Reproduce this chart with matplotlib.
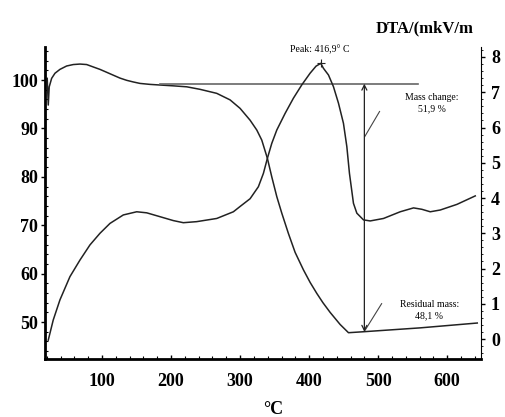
import numpy as np
import matplotlib
matplotlib.use("Agg")
import matplotlib.pyplot as plt
from matplotlib.ticker import MultipleLocator

# TG curve (mass, %)
tg_temp = [20.7, 22.2, 23.6, 27.1, 31.9, 39.1, 48.8, 58.4, 68.1, 77.8, 87.4, 97.1,
           106.8, 116.4, 126.1, 135.8, 145.4, 155.1, 169.6, 184.1, 203.3, 222.8,
           242, 266.2, 285.5, 300, 314.5, 324.2, 331.4, 339.6, 345.9, 353.2, 360.4,
           370, 379.7, 391.7, 401.4, 411.2, 420, 430.4, 444.9, 457, 478.7, 560.9,
           643.5]
tg_mass = [100.35, 94.83, 98.6, 100.35, 101.4, 102.2, 102.9, 103.2, 103.3, 103.2,
           102.7, 102.2, 101.6, 101.0, 100.4, 99.94, 99.6, 99.3, 99.1, 98.97, 98.8,
           98.6, 98.08, 97.25, 95.9, 94.15, 91.7, 89.67, 87.6, 83.8, 80.0, 75.9, 72.5,
           68.3, 64.4, 60.8, 58.2, 55.9, 54.0, 52.0, 49.5, 47.8, 48.0, 48.8, 49.8]

# DTA curve
dta_temp = [22.2, 29.4, 39.1, 53.6, 68.1, 82.6, 97.1, 111.6, 130.9, 150.3, 164.8,
            184.1, 203.3, 217.8, 237.2, 266.2, 290.3, 300, 314.5, 326.5, 333.8,
            339.6, 345.9, 353.2, 365.2, 377.2, 389.4, 401.4, 410, 416.9, 420.7, 428,
            435.2, 442.5, 449.7, 454.6, 458.4, 464.2, 469.1, 478.7, 488.4, 507.7,
            531.9, 551.2, 563.3, 575.4, 589.9, 614.1, 640.6]
dta_val = [-0.03, 0.54, 1.11, 1.77, 2.24, 2.67, 3.0, 3.28, 3.52, 3.61, 3.58, 3.47,
           3.36, 3.30, 3.33, 3.42, 3.61, 3.76, 3.98, 4.32, 4.70, 5.13, 5.55, 5.93,
           6.40, 6.83, 7.21, 7.54, 7.74, 7.82, 7.68, 7.49, 7.16, 6.69, 6.12, 5.46,
           4.70, 3.85, 3.57, 3.38, 3.35, 3.42, 3.61, 3.72, 3.68, 3.61, 3.66, 3.82,
           4.06]

peak_t, peak_v = 416.9, 7.82
start_t, start_mass = 184, 99.24
end_t = 557
arrow_t, residual = 480, 48.0

x_ticks = [100, 200, 300, 400, 500, 600]
left_ticks = [50, 60, 70, 80, 90, 100]
right_ticks = [0, 1, 2, 3, 4, 5, 6, 7, 8]

plt.rcParams['font.family'] = ['Liberation Serif', 'DejaVu Serif']

fig = plt.figure(figsize=(5.05, 4.17), dpi=100)
ax = fig.add_axes([0.089, 0.139, 0.864, 0.748])
ax2 = ax.twinx()

line_c = '#222222'
ax.plot(tg_temp, tg_mass, color=line_c, lw=1.1, solid_joinstyle='round')
ax2.plot(dta_temp, dta_val, color=line_c, lw=1.1, solid_joinstyle='round')

# horizontal reference line and mass-change arrow
ax.plot([start_t, end_t], [start_mass, start_mass], color='#666666', lw=1.2)
ax.annotate('', xy=(arrow_t, start_mass), xytext=(arrow_t, residual),
            arrowprops=dict(arrowstyle='<->', color='#222222', lw=0.9,
                            shrinkA=0, shrinkB=0, mutation_scale=9))

ax.set_xlim(17.4, 649.3)
ax.set_ylim(42.36, 106.8)
ax2.set_ylim(-0.567, 8.28)

ax.set_xticks(x_ticks)
ax.set_yticks(left_ticks)
ax2.set_yticks(right_ticks)
ax.xaxis.set_minor_locator(MultipleLocator(20))
ax.yaxis.set_minor_locator(MultipleLocator(2))
ax2.yaxis.set_minor_locator(MultipleLocator(0.2))

tick_font = dict(fontsize=13, fontweight='bold')
ax.set_xticklabels([str(v) for v in x_ticks], **tick_font)
ax.set_yticklabels([str(v) for v in left_ticks], **tick_font)
ax2.set_yticklabels([str(v) for v in right_ticks], **tick_font)

ax.tick_params(axis='x', which='major', direction='in', length=3, width=1, pad=10)
ax.tick_params(axis='x', which='minor', direction='in', length=2, width=0.8)
ax.tick_params(axis='y', which='major', direction='out', length=3, width=1, pad=2)
ax.tick_params(axis='y', which='minor', direction='in', length=2, width=0.8)
ax2.tick_params(axis='y', which='major', direction='out', length=3, width=1, pad=4)
ax2.tick_params(axis='y', which='minor', direction='out', length=1.5, width=0.6)

ax.spines['top'].set_visible(False)
ax2.spines['top'].set_visible(False)
ax.spines['left'].set_linewidth(2)
ax.spines['bottom'].set_linewidth(2)
ax2.spines['left'].set_visible(False)
ax2.spines['bottom'].set_visible(False)
ax.spines['right'].set_visible(False)
ax2.spines['right'].set_linewidth(0.8)

fig.text(0.54, 0.018, '°C', fontsize=13, fontweight='bold', ha='center', va='center')
fig.text(0.937, 0.932, 'DTA/(mkV/m', fontsize=12, fontweight='bold',
         ha='right', va='center')

# peak marker and label
ax2.plot([peak_t], [peak_v], marker='+', color='#222222', ms=6, mew=0.8)
ax2.text(peak_t - 2, peak_v + 0.25, 'Peak: 416,9° C', fontsize=7, ha='center',
         va='bottom')

# mass change label
ax.text(578, 95.2, 'Mass change:\n51,9 %', fontsize=7, ha='center', va='center',
        linespacing=1.3)
ax.plot([502, 480.5], [93.5, 88.3], color='#444444', lw=0.8)

# residual mass label
ax.text(574, 52.5, 'Residual mass:\n48,1 %', fontsize=7, ha='center', va='center',
        linespacing=1.3)
ax.plot([505, 481], [53.8, 48.3], color='#444444', lw=0.8)

fig.savefig('out.png', dpi=100)
